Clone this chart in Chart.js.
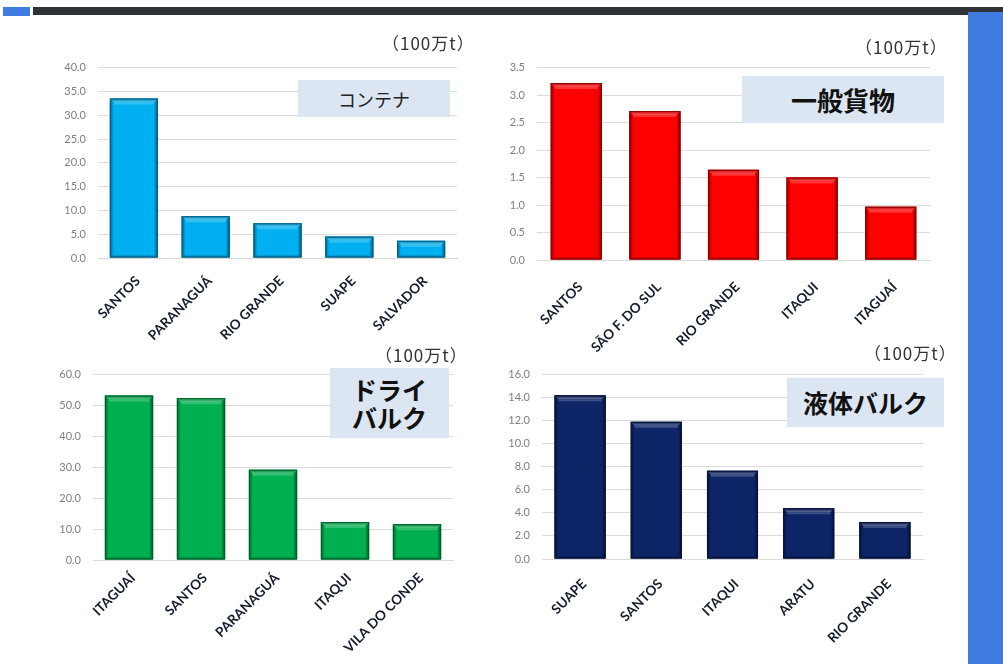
<!DOCTYPE html>
<html>
<head>
<meta charset="utf-8">
<script src="https://cdn.jsdelivr.net/npm/chart.js@4/dist/chart.umd.min.js"></script>
<style>
  html, body { margin:0; padding:0; background:#fff; width:1003px; height:664px; overflow:hidden; position:relative; font-family: Lato, "Noto Sans CJK JP", sans-serif; }
  .topbar { position:absolute; left:33px; top:7px; width:970px; height:8px; background:#2f3338; }
  .topblue { position:absolute; left:3px; top:7px; width:27px; height:9px; background:#3f7be0; }
  .side { position:absolute; left:968px; top:12px; width:35px; height:652px; background:#3f7be0; }
  .cv { position:absolute; }
  .unit { position:absolute; font-family: "Noto Sans CJK JP", sans-serif; font-size:17px; letter-spacing:1px; color:#333; white-space:nowrap; line-height:1; }
  .title { position:absolute; background:#dce6f2; display:flex; align-items:center; justify-content:center; font-family:"Noto Sans CJK JP", sans-serif; color:#111; text-align:center; }
</style>
</head>
<body>
<div class="topbar"></div>
<div class="topblue"></div>
<div class="side"></div>

<canvas id="c1" class="cv"></canvas>
<canvas id="c2" class="cv"></canvas>
<canvas id="c3" class="cv"></canvas>
<canvas id="c4" class="cv"></canvas>

<div class="unit" style="left:382px; top:34px;">（100万t）</div>
<div class="unit" style="left:855px; top:38px;">（100万t）</div>
<div class="unit" style="left:375px; top:346px;">（100万t）</div>
<div class="unit" style="left:864px; top:344px;">（100万t）</div>

<div class="title" style="left:298px; top:80px; width:152px; height:37px; font-size:18px; font-weight:400; color:#222; line-height:1;">コンテナ</div>
<div class="title" style="left:742px; top:76px; width:202px; height:47px; font-size:26px; font-weight:700; line-height:1;">一般貨物</div>
<div class="title" style="left:330px; top:368px; width:119px; height:70px; font-size:25px; font-weight:700; line-height:1.14;">ドライ<br>バルク</div>
<div class="title" style="left:787px; top:378px; width:157px; height:49px; font-size:25px; font-weight:700; line-height:1;">液体バルク</div>

<script>
// ---- data ----
const containerPorts = ["SANTOS", "PARANAGUÁ", "RIO GRANDE", "SUAPE", "SALVADOR"];
const containerValues = [33.5, 8.8, 7.3, 4.5, 3.6];
const containerTicks = [0, 5, 10, 15, 20, 25, 30, 35, 40];

const generalPorts = ["SANTOS", "SÃO F. DO SUL", "RIO GRANDE", "ITAQUI", "ITAGUAÍ"];
const generalValues = [3.22, 2.71, 1.64, 1.50, 0.97];
const generalTicks = [0, 0.5, 1.0, 1.5, 2.0, 2.5, 3.0, 3.5];

const dryPorts = ["ITAGUAÍ", "SANTOS", "PARANAGUÁ", "ITAQUI", "VILA DO CONDE"];
const dryValues = [53.2, 52.4, 29.2, 12.3, 11.6];
const dryTicks = [0, 10, 20, 30, 40, 50, 60];

const liquidPorts = ["SUAPE", "SANTOS", "ITAQUI", "ARATU", "RIO GRANDE"];
const liquidValues = [14.2, 11.9, 7.65, 4.4, 3.2];
const liquidTicks = [0, 2, 4, 6, 8, 10, 12, 14, 16];

// ---- bevel plugin (uses library bar geometry) ----
function shade(hex, f) {
  const n = parseInt(hex.slice(1), 16);
  let r = (n >> 16) & 255, g = (n >> 8) & 255, b = n & 255;
  if (f >= 0) { r += (255 - r) * f; g += (255 - g) * f; b += (255 - b) * f; }
  else { r *= 1 + f; g *= 1 + f; b *= 1 + f; }
  return `rgb(${Math.round(r)},${Math.round(g)},${Math.round(b)})`;
}
const bevelPlugin = {
  id: 'bevel',
  afterDatasetsDraw(chart) {
    const ctx = chart.ctx;
    const base = chart.options.plugins.bevel.color;
    chart.getDatasetMeta(0).data.forEach(el => {
      const p = el.getProps(['x', 'y', 'base', 'width'], true);
      const l = p.x - p.width / 2, r = p.x + p.width / 2, t = p.y, b = p.base;
      const s = 4, sb = 2;
      ctx.save();
      let g = ctx.createLinearGradient(l, 0, l + s, 0);
      g.addColorStop(0, shade(base, -0.45)); g.addColorStop(1, base);
      ctx.fillStyle = g;
      ctx.beginPath(); ctx.moveTo(l, t); ctx.lineTo(l + s, t + s); ctx.lineTo(l + s, b - sb); ctx.lineTo(l, b); ctx.closePath(); ctx.fill();
      g = ctx.createLinearGradient(r - s, 0, r, 0);
      g.addColorStop(0, base); g.addColorStop(1, shade(base, -0.55));
      ctx.fillStyle = g;
      ctx.beginPath(); ctx.moveTo(r, t); ctx.lineTo(r - s, t + s); ctx.lineTo(r - s, b - sb); ctx.lineTo(r, b); ctx.closePath(); ctx.fill();
      ctx.fillStyle = shade(base, -0.3);
      ctx.beginPath(); ctx.moveTo(l, b); ctx.lineTo(l + s, b - sb); ctx.lineTo(r - s, b - sb); ctx.lineTo(r, b); ctx.closePath(); ctx.fill();
      g = ctx.createLinearGradient(0, t, 0, t + s);
      g.addColorStop(0, shade(base, -0.25)); g.addColorStop(1, shade(base, 0.35));
      ctx.fillStyle = g;
      ctx.beginPath(); ctx.moveTo(l, t); ctx.lineTo(r, t); ctx.lineTo(r - s, t + s); ctx.lineTo(l + s, t + s); ctx.closePath(); ctx.fill();
      ctx.fillStyle = shade(base, 0.2);
      ctx.fillRect(l + s, t + s, r - l - 2 * s, 2);
      ctx.strokeStyle = shade(base, -0.45);
      ctx.lineWidth = 1;
      ctx.strokeRect(l + 0.5, t + 0.5, r - l - 1, b - t - 1);
      ctx.restore();
    });
  }
};

// ---- chart builder ----
function makeChart(id, area, labels, values, ticks, color, barPct, labelPad) {
  const yW = 70, xH = 95, padT = 10, padR = 10;
  const cv = document.getElementById(id);
  const left = area.l - yW, top = area.t - padT;
  const w = area.r - left + padR, h = area.b - top + xH;
  cv.style.left = left + 'px'; cv.style.top = top + 'px';
  cv.width = w; cv.height = h;
  cv.style.width = w + 'px'; cv.style.height = h + 'px';
  const max = ticks[ticks.length - 1];
  const step = ticks[1] - ticks[0];
  return new Chart(cv, {
    type: 'bar',
    data: { labels: labels, datasets: [{ data: values, backgroundColor: color, borderWidth: 0, barPercentage: barPct, categoryPercentage: 1 }] },
    plugins: [bevelPlugin],
    options: {
      responsive: false, animation: false, maintainAspectRatio: false,
      layout: { padding: { left: 0, top: padT, right: padR, bottom: 0 } },
      plugins: { legend: { display: false }, tooltip: { enabled: false }, bevel: { color: color } },
      scales: {
        x: {
          grid: { display: false, drawTicks: false },
          border: { display: true, color: '#d9d9d9', width: 1 },
          ticks: { autoSkip: false, minRotation: 45, maxRotation: 45, padding: labelPad, labelOffset: 4, color: '#141c2c', font: { family: 'Lato', size: 13.5, weight: 'bold' } },
          afterFit: s => { s.height = xH; }
        },
        y: {
          min: 0, max: max,
          grid: { color: '#dcdcdc', lineWidth: 1, drawTicks: false },
          border: { display: false },
          ticks: { stepSize: step, padding: 12, color: '#7f7f7f', font: { family: 'Lato', size: 11 }, callback: v => Number(v).toFixed(1) },
          afterFit: s => { s.width = yW; }
        }
      }
    }
  });
}

makeChart('c1', { l: 98, r: 457, t: 59, b: 258 }, containerPorts, containerValues, containerTicks, '#00b0f0', 0.67, 15);
makeChart('c2', { l: 537, r: 930, t: 59, b: 260 }, generalPorts, generalValues, generalTicks, '#ff0000', 0.65, 19);
makeChart('c3', { l: 93, r: 453, t: 366, b: 560 }, dryPorts, dryValues, dryTicks, '#00b050', 0.67, 10);
makeChart('c4', { l: 542, r: 923, t: 366, b: 559 }, liquidPorts, liquidValues, liquidTicks, '#0d2466', 0.67, 17);
</script>
</body>
</html>
